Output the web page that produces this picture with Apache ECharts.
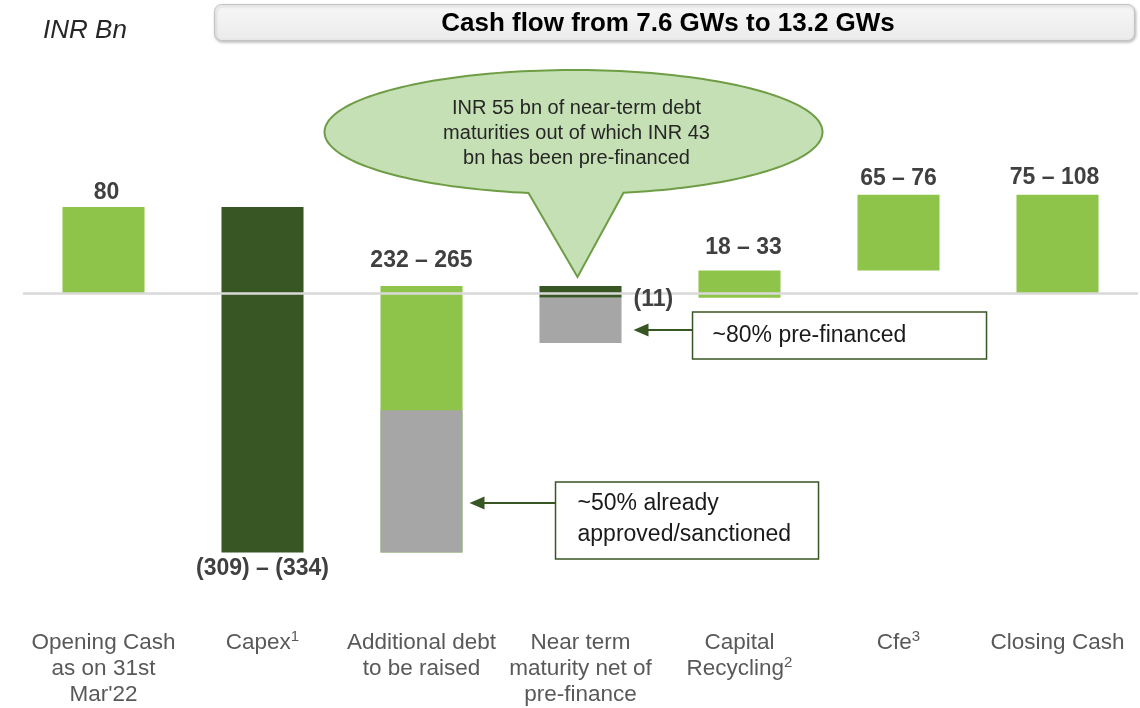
<!DOCTYPE html>
<html><head><meta charset="utf-8">
<script src="https://cdn.jsdelivr.net/npm/echarts@6/dist/echarts.min.js"></script>
<style>html,body{margin:0;padding:0;background:#fff}#c{width:1140px;height:708px}</style>
</head><body><div id="c"></div>
<script>
// ---- data (INR Bn) ----
const categories = ["Opening Cash\nas on 31st\nMar'22", "Capex{s|1}", "Additional debt\nto be raised", "Near term\nmaturity net of\npre-finance", "Capital\nRecycling{s|2}", "Cfe{s|3}", "Closing Cash"];
const openingCash = [80];
const capex = [-321.5];
const additionalDebt = [132.5, 115.5];      // [already approved/sanctioned, still to be raised]
const nearTermMaturity = [-11, -42];       // [net of pre-finance, pre-financed portion]
const capitalRecycling = [25.5];
const cfe = [70.5];
const closingCash = [91.5];
const valueLabels = ['80', '(309) – (334)', '232 – 265', '(11)', '18 – 33', '65 – 76', '75 – 108'];
const calloutText = ['INR 55 bn of near-term debt', 'maturities out of which INR 43', 'bn has been pre-financed'];
const noteNearTerm = '~80% pre-financed';
const noteDebt = '~50% already\napproved/sanctioned';
const titleText = 'Cash flow from 7.6 GWs to 13.2 GWs';
const unitText = 'INR Bn';

// ---- style ----
const FONT = 'Liberation Sans, Arial, Helvetica, sans-serif';
const palette = ['#8FC44A', '#375623', '#A6A6A6'];   // light green, dark green, gray
const LIGHT = 0, DARK = 1, GRAY = 2;

// ---- build waterfall segments [cat, low, high, colour] ----
const segs = [];
const tops = [], bottoms = [];
let level = 0;
function seg(c, a, b, col) { segs.push([c, Math.min(a, b), Math.max(a, b), col]); }
seg(0, 0, openingCash[0], LIGHT); level = openingCash[0];
tops[0] = level; bottoms[0] = 0;
seg(1, level, level + capex[0], DARK); tops[1] = level; level += capex[0]; bottoms[1] = level;
bottoms[2] = level;
seg(2, level, level + additionalDebt[0] + additionalDebt[1], LIGHT);
seg(2, level, level + additionalDebt[0], GRAY);
level += additionalDebt[0] + additionalDebt[1]; tops[2] = level;
tops[3] = level;
seg(3, level, level + nearTermMaturity[0], DARK); level += nearTermMaturity[0]; bottoms[3] = level;
seg(3, level, level + nearTermMaturity[1], GRAY);
bottoms[4] = level;
seg(4, level, level + capitalRecycling[0], LIGHT); level += capitalRecycling[0]; tops[4] = level;
bottoms[5] = level;
seg(5, level, level + cfe[0], LIGHT); level += cfe[0]; tops[5] = level;
seg(6, 0, closingCash[0], LIGHT); tops[6] = closingCash[0]; bottoms[6] = 0;

const labelPlace = ['top', 'bottom', 'top', 'right', 'top', 'top', 'top'];
const labelGap = [14, 16, 25, 12, 22.5, 16, 16.5];
const labelDx = [3, 0, 0, 0, 4, 0, -3];
const BAR_RATIO = 0.516;

const chart = echarts.init(document.getElementById('c'), null, { renderer: 'canvas' });
const option = {
  animation: false,
  backgroundColor: '#ffffff',
  grid: { left: 24, right: 3, top: 99.5, height: 516, containLabel: false, outerBoundsMode: 'none' },
  xAxis: [
    {
      type: 'category', data: categories, position: 'bottom',
      axisLine: { show: false, onZero: false }, axisTick: { show: false },
      axisLabel: { interval: 0, margin: 14, color: '#595959', fontFamily: FONT, fontSize: 22.5, lineHeight: 26, verticalAlign: 'top',
        rich: { s: { fontFamily: FONT, fontSize: 15, lineHeight: 18, verticalAlign: 'top', color: '#595959' } } },
      splitLine: { show: false }
    },
    {
      type: 'category', data: categories, position: 'bottom', z: 10,
      axisLine: { show: true, onZero: true, lineStyle: { color: '#D9D9D9', width: 2.5 } },
      axisTick: { show: false }, axisLabel: { show: false }, splitLine: { show: false }
    }
  ],
  yAxis: { type: 'value', min: -300, max: 180, interval: 60, show: false, splitLine: { show: false } },
  series: [
    {
      type: 'custom', z: 2,
      data: segs,
      encode: { x: 0, y: [1, 2] },
      renderItem: function (params, api) {
        const c = api.value(0);
        const p1 = api.coord([c, api.value(2)]);
        const p2 = api.coord([c, api.value(1)]);
        const w = api.size([1, 0])[0] * BAR_RATIO;
        return { type: 'rect', shape: { x: p1[0] - w / 2, y: p1[1], width: w, height: p2[1] - p1[1] },
                 style: { fill: palette[api.value(3)] } };
      }
    },
    {
      type: 'custom', z: 12,
      data: valueLabels.map((t, i) => [i, bottoms[i], tops[i]]),
      encode: { x: 0, y: [1, 2] },
      renderItem: function (params, api) {
        const i = params.dataIndex;
        const w = api.size([1, 0])[0] * BAR_RATIO;
        const pl = labelPlace[i], g = labelGap[i];
        let x, y, align = 'center';
        if (pl === 'top') { const p = api.coord([i, api.value(2)]); x = p[0] + labelDx[i]; y = p[1] - g; }
        else if (pl === 'bottom') { const p = api.coord([i, api.value(1)]); x = p[0] + labelDx[i]; y = p[1] + g; }
        else { const p = api.coord([i, api.value(1)]); x = p[0] + w / 2 + g; y = p[1] + 1.5; align = 'left'; }
        return { type: 'text', x: x, y: y, z2: 50,
                 style: { text: valueLabels[i], fontFamily: FONT, fontSize: 23, fontWeight: 'bold', fill: '#404040', align: align, verticalAlign: 'middle' } };
      }
    }
  ]
};
chart.setOption(option);

// ---- annotations anchored to the bars ----
const px = (c, v) => chart.convertToPixel({ xAxisIndex: 0, yAxisIndex: 0 }, [c, v]);
const bandW = px(1, 0)[0] - px(0, 0)[0];
const barW = bandW * BAR_RATIO;

// speech bubble
const tipBase = px(3, tops[3]);
const tip = [tipBase[0] - 3, tipBase[1] - 9];
const cx = tip[0] - 4, cy = tip[1] - 145, rx = 249, ry = 62;
const t1 = Math.acos(-45 / rx), t2 = Math.acos(50 / rx) + 2 * Math.PI;
const bubble = [];
for (let k = 0; k <= 180; k++) {
  const t = t1 + (t2 - t1) * k / 180;
  bubble.push([cx + rx * Math.cos(t), cy + ry * Math.sin(t)]);
}
bubble.push(tip);

// arrows
const nearRight = px(3, bottoms[3]);
const a1Tip = [nearRight[0] + barW / 2 + 12, 330];
const box1 = { x: a1Tip[0] + 59, y: 312, w: 294, h: 47 };
const debtRight = px(2, bottoms[2]);
const a2Tip = [debtRight[0] + barW / 2 + 7, 503];
const box2 = { x: a2Tip[0] + 86, y: 482, w: 263, h: 77 };
const ARROW = '#375623';
function arrowHead(p) { return [[p[0], p[1]], [p[0] + 15, p[1] - 6.5], [p[0] + 15, p[1] + 6.5]]; }

chart.setOption({
  graphic: [
    // title box
    { type: 'rect', shape: { x: 214.5, y: 4.5, width: 920, height: 36, r: 7 },
      style: { fill: new echarts.graphic.LinearGradient(0, 0, 0, 1, [{ offset: 0, color: '#F7F7F7' }, { offset: 1, color: '#EBEBEB' }]),
               stroke: '#C4C4C4', lineWidth: 1, shadowBlur: 3, shadowOffsetY: 1.5, shadowOffsetX: 1, shadowColor: 'rgba(0,0,0,0.25)' } },
    { type: 'text', x: 668, y: 24, style: { text: titleText, fontFamily: FONT, fontSize: 26, fontWeight: 'bold', fill: '#000000', align: 'center', verticalAlign: 'middle' } },
    { type: 'text', x: 85, y: 31, style: { text: unitText, fontFamily: FONT, fontSize: 26, fontStyle: 'italic', fill: '#262626', align: 'center', verticalAlign: 'middle' } },
    // callout bubble
    { type: 'polygon', shape: { points: bubble }, style: { fill: '#C5E0B4', stroke: '#6E9D45', lineWidth: 2 }, z: 20 },
    { type: 'text', x: cx + 3, y: cy + 1, z: 21,
      style: { text: calloutText.join('\n'), fontFamily: FONT, fontSize: 20, lineHeight: 25, fill: '#262626', align: 'center', verticalAlign: 'middle' } },
    // note 1
    { type: 'rect', shape: { x: box1.x, y: box1.y, width: box1.w, height: box1.h }, style: { fill: '#ffffff', stroke: ARROW, lineWidth: 1.5 }, z: 20 },
    { type: 'text', x: box1.x + 20, y: box1.y + box1.h / 2 + 0.5, z: 21,
      style: { text: noteNearTerm, fontFamily: FONT, fontSize: 23, fill: '#1A1A1A', align: 'left', verticalAlign: 'middle' } },
    { type: 'line', shape: { x1: a1Tip[0] + 10, y1: a1Tip[1], x2: box1.x, y2: a1Tip[1] }, style: { stroke: ARROW, lineWidth: 2 }, z: 20 },
    { type: 'polygon', shape: { points: arrowHead(a1Tip) }, style: { fill: ARROW }, z: 20 },
    // note 2
    { type: 'rect', shape: { x: box2.x, y: box2.y, width: box2.w, height: box2.h }, style: { fill: '#ffffff', stroke: ARROW, lineWidth: 1.5 }, z: 20 },
    { type: 'text', x: box2.x + 22, y: box2.y + box2.h / 2 - 1.5, z: 21,
      style: { text: noteDebt, fontFamily: FONT, fontSize: 23, lineHeight: 31.5, fill: '#1A1A1A', align: 'left', verticalAlign: 'middle' } },
    { type: 'line', shape: { x1: a2Tip[0] + 10, y1: a2Tip[1], x2: box2.x, y2: a2Tip[1] }, style: { stroke: ARROW, lineWidth: 2 }, z: 20 },
    { type: 'polygon', shape: { points: arrowHead(a2Tip) }, style: { fill: ARROW }, z: 20 }
  ]
});
</script></body></html>
